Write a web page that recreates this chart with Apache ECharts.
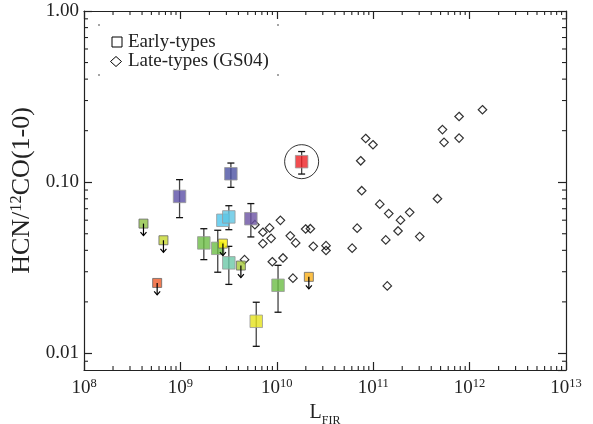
<!DOCTYPE html>
<html><head><meta charset="utf-8">
<script src="https://cdn.jsdelivr.net/npm/echarts@6/dist/echarts.min.js"></script>
<style>html,body{margin:0;padding:0;background:#fff}#c{width:593px;height:424px}</style>
</head><body><div id="c"></div>
<script>
// Early-type galaxies (coloured squares)
const earlyL = [4.14e8, 6.67e8, 5.74e8, 9.8e8, 1.75e9, 2.44e9, 2.76e9, 2.76e9, 3.18e9, 3.18e9, 3.34e9, 4.24e9, 5.38e9, 6.12e9, 1.03e10, 1.81e10, 2.15e10];
const earlyRatio = [0.0573, 0.0458, 0.0258, 0.0826, 0.0442, 0.0411, 0.0438, 0.0599, 0.0627, 0.0338, 0.112, 0.0326, 0.0612, 0.0154, 0.0250, 0.1318, 0.0280];
const earlyErrLow = [null, null, null, 0.0621, 0.0353, 0.0298, null, null, 0.0528, 0.0253, 0.0933, null, 0.0479, 0.0110, 0.0174, 0.1116, null];
const earlyErrHigh = [null, null, null, 0.1035, 0.0535, 0.0524, null, null, 0.0729, 0.0422, 0.1294, null, 0.0750, 0.0199, 0.0327, 0.1510, null];
const earlyUpperLimit = [true, true, true, false, false, false, true, false, false, false, false, true, false, false, false, false, true];
const earlyColors = ['#8dc044', '#c5d72e', '#ef5a28', '#5b4fa6', '#6bbd45', '#6bbd45', '#fff200', '#4fc6ec', '#5cc5e3', '#6cc8a8', '#4b51a2', '#a6c939', '#6a51a3', '#e5e21c', '#6bbd45', '#ed2024', '#fbb019'];
const circledIndex = 15;

// Late-type galaxies (GS04, open diamonds)
const lateL = [1.36e12, 7.78e11, 5.23e11, 7.78e11, 5.43e11, 8.36e10, 9.95e10, 7.42e10, 7.6e10, 1.17e11, 1.45e11, 2.39e11, 1.92e11, 4.64e11, 6.82e10, 1.81e11, 3.04e11, 1.35e11, 6.05e10, 1.40e11, 1.09e10, 8.42e9, 7.17e9, 8.73e9, 7.17e9, 1.38e10, 1.57e10, 1.99e10, 2.23e10, 2.39e10, 3.24e10, 3.24e10, 5.93e9, 4.63e9, 8.98e9, 1.16e10, 1.47e10];
const lateRatio = [0.265, 0.242, 0.203, 0.181, 0.171, 0.180, 0.1655, 0.1334, 0.0892, 0.0744, 0.0656, 0.0667, 0.060, 0.0801, 0.0539, 0.0519, 0.0481, 0.046, 0.0412, 0.0248, 0.0599, 0.0541, 0.0510, 0.0470, 0.0438, 0.0486, 0.0442, 0.0533, 0.0535, 0.0422, 0.0426, 0.0399, 0.0565, 0.0353, 0.0343, 0.0361, 0.0275];

// Axis settings
const xMin = 1e8, xMax = 1e13;
const yMin = 0.008, yMax = 1.0;
const xMinorTicks = [];
for (let e = 8; e < 13; e++) for (let m = 2; m <= 9; m++) xMinorTicks.push(m * Math.pow(10, e));
const yMinorTicks = [0.009];
for (let e = -2; e < 0; e++) for (let m = 2; m <= 9; m++) yMinorTicks.push(+(m * Math.pow(10, e)).toPrecision(3));

const FONT = 'Liberation Serif, Times New Roman, serif';
const INK = '#222';

const chart = echarts.init(document.getElementById('c'), null, {renderer: 'canvas'});

const earlyData = earlyL.map((x, i) => ({
  value: [x, earlyRatio[i]],
  symbolSize: earlyUpperLimit[i] ? 9 : 12.5,
  itemStyle: {color: earlyColors[i], borderColor: earlyUpperLimit[i] ? '#666' : '#999', borderWidth: 1}
}));

function axisCommon(pos, isX) {
  return {
    type: 'log', logBase: 10,
    min: isX ? xMin : yMin, max: isX ? xMax : yMax,
    position: pos,
    axisLine: {show: true, lineStyle: {color: INK, width: 1.2}},
    axisTick: {show: true, inside: true, length: 8, lineStyle: {color: INK, width: 1.2}},
    splitLine: {show: false},
    axisLabel: {show: false},
  };
}

const xBottom = axisCommon('bottom', true);
xBottom.axisLabel = {
  show: true, margin: 7, showMinLabel: true, showMaxLabel: true,
  formatter: v => '{b|10}{s|' + Math.round(Math.log10(v)) + '}',
  rich: {
    b: {fontFamily: FONT, fontSize: 19, color: INK, lineHeight: 22},
    s: {fontFamily: FONT, fontSize: 12.5, color: INK, verticalAlign: 'top', lineHeight: 12}
  }
};
xBottom.name = '{b|L}{s|FIR}';
xBottom.nameLocation = 'middle';
xBottom.nameGap = 22;
xBottom.nameTextStyle = {
  rich: {
    b: {fontFamily: FONT, fontSize: 20, color: INK, lineHeight: 22},
    s: {fontFamily: FONT, fontSize: 12, color: INK, verticalAlign: 'bottom', lineHeight: 12, padding: [0, 0, -3, 0]}
  }
};
const xTop = axisCommon('top', true);

const yLeft = axisCommon('left', false);
yLeft.axisLabel = {
  show: true, margin: 5, showMinLabel: false,
  formatter: v => v.toFixed(2),
  fontFamily: FONT, fontSize: 19, color: INK
};
yLeft.name = '{b|HCN/}{s|12}{b|CO(1-0)}';
yLeft.nameLocation = 'middle';
yLeft.nameRotate = 90;
yLeft.nameGap = 40;
yLeft.nameTextStyle = {
  rich: {
    b: {fontFamily: FONT, fontSize: 26, color: INK, lineHeight: 28},
    s: {fontFamily: FONT, fontSize: 16.5, color: INK, verticalAlign: 'top', lineHeight: 16}
  }
};
const yRight = axisCommon('right', false);

function tickLine(x1, y1, x2, y2) {
  return {type: 'line', shape: {x1, y1, x2, y2}, style: {stroke: INK, lineWidth: 1.1}};
}

const option = {
  backgroundColor: '#fff',
  animation: false,
  grid: {left: 84, right: 27, top: 11, bottom: 54, show: false, containLabel: false, outerBoundsMode: 'none'},
  xAxis: [xBottom, xTop],
  yAxis: [yLeft, yRight],
  series: [
    { // minor ticks on all four sides
      type: 'custom', silent: true, z: 1, clip: false,
      data: [[1e10, 0.1]],
      renderItem: (params, api) => {
        const cs = params.coordSys;
        const ch = [];
        const L = 4;
        xMinorTicks.forEach(v => {
          const px = api.coord([v, 0.1])[0];
          ch.push(tickLine(px, cs.y + cs.height, px, cs.y + cs.height - L));
          ch.push(tickLine(px, cs.y, px, cs.y + L));
        });
        yMinorTicks.forEach(v => {
          const py = api.coord([1e10, v])[1];
          ch.push(tickLine(cs.x, py, cs.x + L, py));
          ch.push(tickLine(cs.x + cs.width, py, cs.x + cs.width - L, py));
        });
        return {type: 'group', children: ch};
      }
    },
    { // late-type diamonds
      type: 'scatter', name: 'Late-types (GS04)', z: 2,
      symbol: 'diamond', symbolSize: [8.5, 8.5],
      itemStyle: {color: 'rgba(255,255,255,0)', borderColor: '#000', borderWidth: 1.2},
      data: lateL.map((x, i) => [x, lateRatio[i]])
    },
    { // error bars
      type: 'custom', z: 3, silent: true,
      data: earlyL.map((x, i) => [x, earlyRatio[i]]),
      renderItem: (params, api) => {
        const i = params.dataIndex;
        if (earlyErrLow[i] == null) return null;
        const x = earlyL[i];
        const lo = api.coord([x, earlyErrLow[i]]);
        const hi = api.coord([x, earlyErrHigh[i]]);
        const w = 3.5;
        return {type: 'group', children: [
          {type: 'line', shape: {x1: lo[0], y1: lo[1], x2: hi[0], y2: hi[1]}, style: {stroke: '#444', lineWidth: 1.3}},
          {type: 'line', shape: {x1: lo[0] - w, y1: lo[1], x2: lo[0] + w, y2: lo[1]}, style: {stroke: '#111', lineWidth: 1.3}},
          {type: 'line', shape: {x1: hi[0] - w, y1: hi[1], x2: hi[0] + w, y2: hi[1]}, style: {stroke: '#111', lineWidth: 1.3}}
        ]};
      }
    },
    { // early-type squares
      type: 'scatter', name: 'Early-types', z: 4,
      symbol: 'rect',
      data: earlyData
    },
    { // upper-limit arrows
      type: 'custom', z: 5, silent: true,
      data: earlyL.map((x, i) => [x, earlyRatio[i]]),
      renderItem: (params, api) => {
        const i = params.dataIndex;
        if (!earlyUpperLimit[i]) return null;
        const c = api.coord([earlyL[i], earlyRatio[i]]);
        return {type: 'group', children: [
          {type: 'line', shape: {x1: c[0], y1: c[1], x2: c[0], y2: c[1] + 12}, style: {stroke: '#000', lineWidth: 1.2}},
          {type: 'polyline', shape: {points: [[c[0] - 3, c[1] + 8.5], [c[0], c[1] + 12], [c[0] + 3, c[1] + 8.5]]}, style: {stroke: '#000', fill: null, lineWidth: 1.2}}
        ]};
      }
    },
    { // circle around the highlighted point
      type: 'scatter', z: 6, silent: true,
      symbol: 'circle', symbolSize: 34,
      itemStyle: {color: 'rgba(255,255,255,0)', borderColor: '#000', borderWidth: 1},
      data: [[earlyL[circledIndex], earlyRatio[circledIndex]]]
    }
  ],
  graphic: [
    {type: 'rect', shape: {x: 112, y: 37, width: 10, height: 10}, style: {fill: 'none', stroke: '#000', lineWidth: 1}},
    {type: 'text', x: 128, y: 42, style: {text: 'Early-types', font: '19px ' + FONT, fill: INK, verticalAlign: 'middle'}},
    {type: 'polygon', shape: {points: [[116, 56.5], [121.5, 61.5], [116, 66.5], [110.5, 61.5]]}, style: {fill: 'none', stroke: '#000', lineWidth: 1}},
    {type: 'text', x: 128, y: 61, style: {text: 'Late-types (GS04)', font: '19px ' + FONT, fill: INK, verticalAlign: 'middle'}},
    {type: 'circle', shape: {cx: 99, cy: 25, r: 0.8}, style: {fill: '#333'}},
    {type: 'circle', shape: {cx: 278, cy: 25, r: 0.8}, style: {fill: '#333'}},
    {type: 'circle', shape: {cx: 99, cy: 75, r: 0.8}, style: {fill: '#333'}},
    {type: 'circle', shape: {cx: 278, cy: 75, r: 0.8}, style: {fill: '#333'}}
  ]
};
chart.setOption(option);
</script>
</body></html>
